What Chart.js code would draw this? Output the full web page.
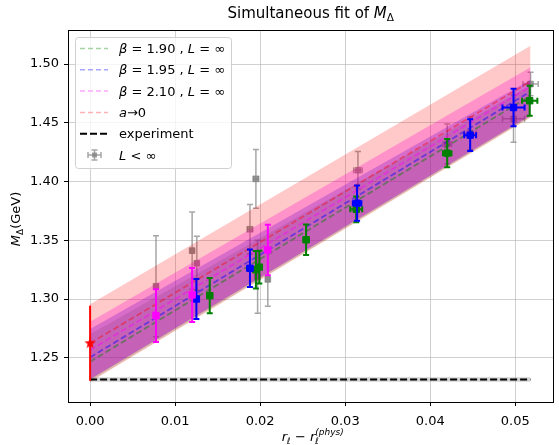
<!DOCTYPE html>
<html>
<head>
<meta charset="utf-8">
<script src="https://cdn.jsdelivr.net/npm/chart.js@4.4.0/dist/chart.umd.min.js"></script>
<style>
  html, body { margin: 0; padding: 0; background: #fff; }
</style>
</head>
<body>
<canvas id="myChart" width="559" height="445"></canvas>
<script>
  // beta = 1.90 ensembles, L = inf
  const b190X = [0.01407, 0.0195, 0.0199, 0.0254, 0.0313, 0.0420, 0.0517];
  const b190Y = [1.3029, 1.3250, 1.3272, 1.3505, 1.3764, 1.4242, 1.4688];
  const b190Err = [0.015, 0.016, 0.014, 0.013, 0.011, 0.012, 0.0127];
  const b190XErr = [0.0003, 0.0003, 0.0003, 0.0003, 0.0007, 0.0005, 0.0009];

  // beta = 1.95
  const b195X = [0.0125, 0.0188, 0.0314, 0.0447, 0.0498];
  const b195Y = [1.3001, 1.3262, 1.3816, 1.4395, 1.4630];
  const b195Err = [0.017, 0.016, 0.015, 0.0135, 0.016];
  const b195XErr = [0.0003, 0.0003, 0.0005, 0.0007, 0.0013];

  // beta = 2.10
  const b210X = [0.00775, 0.0120, 0.0209];
  const b210Y = [1.2859, 1.3035, 1.3418];
  const b210Err = [0.0225, 0.023, 0.0215];
  const b210XErr = [0.0002, 0.0002, 0.0002];

  // finite volume points
  const finX = [0.00775, 0.0120, 0.01255, 0.0188, 0.0195, 0.0197, 0.0209, 0.0315, 0.0420, 0.0447, 0.0498, 0.0518];
  const finY = [1.3109, 1.3412, 1.3305, 1.3594, 1.4023, 1.3190, 1.3168, 1.4096, 1.4320, 1.4410, 1.4534, 1.4830];
  const finErr = [0.043, 0.033, 0.023, 0.021, 0.025, 0.031, 0.023, 0.016, 0.017, 0.014, 0.020, 0.010];
  const finXErr = [0.0002, 0.0002, 0.0002, 0.0003, 0.0003, 0.0003, 0.0002, 0.0005, 0.0005, 0.0007, 0.0013, 0.0009];

  // continuum extrapolated point
  const physX = [0];
  const physY = [1.2624];
  const physErr = [0.032];

  // fit lines and bands, values at both ends of the fit range
  const fitX = [0, 0.0518];
  const b190Mid = [1.2467, 1.4730];
  const b190Lo = [1.2300, 1.4550];
  const b190Hi = [1.2700, 1.4820];
  const b195Mid = [1.2504, 1.4767];
  const b195Lo = [1.2315, 1.4560];
  const b195Hi = [1.2745, 1.4866];
  const b210Mid = [1.2566, 1.4809];
  const b210Lo = [1.2320, 1.4565];
  const b210Hi = [1.2807, 1.4974];
  const contMid = [1.2624, 1.4852];
  const contLo = [1.2295, 1.4545];
  const contHi = [1.2956, 1.5156];

  // experiment
  const expX = [0, 0.0518];
  const expVal = 1.2315;
  const expErr = 0.0019;

  const xTicks = [0, 0.01, 0.02, 0.03, 0.04, 0.05];
  const yTicks = [1.25, 1.30, 1.35, 1.40, 1.45, 1.50];

  const FONT = '"DejaVu Sans"';
  const pts = (xs, ys) => xs.map((x, i) => ({x: x, y: ys[i]}));

  function starImage(r, color) {
    const c = document.createElement('canvas');
    c.width = c.height = Math.ceil(2 * r + 2);
    const g = c.getContext('2d');
    g.translate(c.width / 2, c.height / 2);
    g.beginPath();
    for (let k = 0; k < 10; k++) {
      const rr = k % 2 ? r * 0.42 : r;
      const a = -Math.PI / 2 + k * Math.PI / 5;
      g.lineTo(rr * Math.cos(a), rr * Math.sin(a));
    }
    g.closePath();
    g.fillStyle = color;
    g.fill();
    return c;
  }

  function band(lo, hi, color, order) {
    return [
      {type: 'line', data: pts(fitX, lo), borderColor: 'transparent', borderWidth: 0, pointRadius: 0, fill: false, order: order},
      {type: 'line', data: pts(fitX, hi), borderColor: 'transparent', borderWidth: 0, pointRadius: 0, fill: '-1', backgroundColor: color, order: order}
    ];
  }

  function fitLine(ys, color, order) {
    return {type: 'line', data: pts(fitX, ys), borderColor: color, borderWidth: 1.8,
      borderDash: [6, 3], pointRadius: 0, fill: false, order: order};
  }

  function points(xs, ys, err, xerr, color, fillColor, order, extra) {
    return Object.assign({type: 'scatter', data: pts(xs, ys), yErr: err, xErr: xerr,
      borderColor: color, backgroundColor: fillColor, pointStyle: 'rect', pointRadius: 4.5,
      borderWidth: 1, order: order}, extra || {});
  }

  const datasets = [
    points(finX, finY, finErr, finXErr, 'rgba(128,128,128,0.7)', 'rgba(128,128,128,0.75)', 20, {errWidth: 1.5, pointRadius: 4}),
    ...band(b190Lo, b190Hi, 'rgba(0,128,0,0.17)', 19),
    ...band(b195Lo, b195Hi, 'rgba(0,0,255,0.27)', 18),
    ...band(b210Lo, b210Hi, 'rgba(255,0,255,0.27)', 17),
    ...band(contLo, contHi, 'rgba(255,0,0,0.21)', 16),
    {type: 'line', data: pts(expX, [expVal - expErr, expVal - expErr]), borderColor: 'transparent', borderWidth: 0, pointRadius: 0, fill: false, order: 15},
    {type: 'line', data: pts(expX, [expVal + expErr, expVal + expErr]), borderColor: 'transparent', borderWidth: 0, pointRadius: 0, fill: '-1', backgroundColor: 'rgba(128,128,128,0.35)', order: 15},
    fitLine(b190Mid, 'rgba(0,128,0,0.45)', 14),
    fitLine(b195Mid, 'rgba(0,0,255,0.45)', 13),
    fitLine(b210Mid, 'rgba(255,0,255,0.45)', 12),
    fitLine(contMid, 'rgba(255,0,0,0.4)', 11),
    {type: 'line', data: pts(expX, [expVal, expVal]), borderColor: '#000', borderWidth: 2,
      borderDash: [7, 3], pointRadius: 0, fill: false, order: 10},
    points(b190X, b190Y, b190Err, b190XErr, '#008000', '#008000', 4, {errWidth: 2}),
    points(b195X, b195Y, b195Err, b195XErr, '#0000ff', '#0000ff', 3, {errWidth: 2}),
    points(b210X, b210Y, b210Err, b210XErr, '#ff00ff', '#ff00ff', 2, {errWidth: 2}),
    points(physX, physY, physErr, [0], '#ff0000', '#ff0000', 1, {errWidth: 2, pointStyle: starImage(6, '#ff0000'), cap: 0})
  ];

  // error bars under each point dataset
  const errorBars = {
    id: 'errorBars',
    beforeDatasetDraw(chart, args) {
      const ds = chart.data.datasets[args.index];
      if (!ds.yErr) return;
      const ctx = chart.ctx, sx = chart.scales.x, sy = chart.scales.y;
      const cap = ds.cap === undefined ? 3 : ds.cap;
      ctx.save();
      ctx.strokeStyle = ds.borderColor;
      ctx.lineWidth = ds.errWidth;
      ds.data.forEach((p, i) => {
        const px = sx.getPixelForValue(p.x), py = sy.getPixelForValue(p.y);
        const y0 = sy.getPixelForValue(p.y - ds.yErr[i]), y1 = sy.getPixelForValue(p.y + ds.yErr[i]);
        const x0 = sx.getPixelForValue(p.x - ds.xErr[i]), x1 = sx.getPixelForValue(p.x + ds.xErr[i]);
        ctx.beginPath();
        ctx.moveTo(px, y0); ctx.lineTo(px, y1);
        if (cap) {
          ctx.moveTo(px - cap, y0); ctx.lineTo(px + cap, y0);
          ctx.moveTo(px - cap, y1); ctx.lineTo(px + cap, y1);
        }
        if (x1 - x0 > 1) {
          ctx.moveTo(x0, py); ctx.lineTo(x1, py);
          ctx.moveTo(x0, py - cap); ctx.lineTo(x0, py + cap);
          ctx.moveTo(x1, py - cap); ctx.lineTo(x1, py + cap);
        }
        ctx.stroke();
      });
      ctx.restore();
    }
  };

  function segFont(s) {
    return (s.it ? 'italic ' : '') + (s.sz || 13) + 'px ' + FONT;
  }

  // draws text made of pieces (italic, sub/superscripts)
  function drawRich(ctx, segs, x, y, align) {
    let pos = 0, prevStart = 0, prevEnd = 0;
    const items = segs.map(s => {
      ctx.font = segFont(s);
      const w = ctx.measureText(s.t).width;
      const start = s.stack ? prevStart : pos;
      const end = start + w;
      pos = s.stack ? Math.max(prevEnd, end) : end;
      prevStart = start; prevEnd = end;
      return {s: s, start: start};
    });
    const x0 = align === 'center' ? x - pos / 2 : x;
    ctx.textAlign = 'left';
    ctx.textBaseline = 'alphabetic';
    items.forEach(it => {
      ctx.font = segFont(it.s);
      ctx.fillText(it.s.t, x0 + it.start, y + (it.s.dy || 0));
    });
  }

  const decorations = {
    id: 'decorations',
    afterDatasetsDraw(chart) {
      const {ctx, chartArea: a} = chart;
      ctx.save();
      ctx.strokeStyle = '#000';
      ctx.lineWidth = 1;
      ctx.strokeRect(Math.round(a.left) + 0.5, Math.round(a.top) + 0.5,
        Math.round(a.right - a.left) - 1, Math.round(a.bottom - a.top));
      ctx.restore();
    },
    afterDraw(chart) {
      const {ctx, chartArea: a} = chart;
      ctx.save();
      ctx.fillStyle = '#000';
      const cx = (a.left + a.right) / 2;
      // title
      drawRich(ctx, [
        {t: 'Simultaneous fit of ', sz: 15},
        {t: 'M', it: true, sz: 15},
        {t: 'Δ', sz: 10.5, dy: 3}
      ], cx, 18, 'center');
      // x label
      drawRich(ctx, [
        {t: 'r', it: true},
        {t: 'ℓ', it: true, sz: 9, dy: 3},
        {t: ' − '},
        {t: 'r', it: true},
        {t: 'ℓ', it: true, sz: 9, dy: 3},
        {t: '(phys)', it: true, sz: 9, dy: -6, stack: true}
      ], cx + 2, 441, 'center');
      // y label
      ctx.save();
      ctx.translate(20, (a.top + a.bottom) / 2 + 3);
      ctx.rotate(-Math.PI / 2);
      drawRich(ctx, [
        {t: 'M', it: true},
        {t: 'Δ', sz: 9, dy: 3},
        {t: '(GeV)'}
      ], 0, 0, 'center');
      ctx.restore();

      // legend
      const lx = 75, ly = 37, lw = 156, lh = 131;
      ctx.beginPath();
      ctx.roundRect(lx + 0.5, ly + 0.5, lw, lh, 3);
      ctx.fillStyle = 'rgba(255,255,255,0.8)';
      ctx.fill();
      ctx.strokeStyle = '#d0d0d0';
      ctx.lineWidth = 1;
      ctx.stroke();

      const rows = [
        {color: 'rgba(0,128,0,0.35)', segs: [{t: 'β', it: true}, {t: ' = 1.90 , '}, {t: 'L', it: true}, {t: ' = ∞'}]},
        {color: 'rgba(0,0,255,0.35)', segs: [{t: 'β', it: true}, {t: ' = 1.95 , '}, {t: 'L', it: true}, {t: ' = ∞'}]},
        {color: 'rgba(255,0,255,0.35)', segs: [{t: 'β', it: true}, {t: ' = 2.10 , '}, {t: 'L', it: true}, {t: ' = ∞'}]},
        {color: 'rgba(255,0,0,0.3)', segs: [{t: 'a', it: true}, {t: '→0'}]},
        {color: '#000', width: 2, dash: [7, 3], segs: [{t: 'experiment'}]},
        {err: true, segs: [{t: 'L', it: true}, {t: ' < ∞'}]}
      ];
      rows.forEach((r, i) => {
        const y = 48.5 + i * 21.3;
        if (r.err) {
          ctx.strokeStyle = 'rgba(128,128,128,0.7)';
          ctx.lineWidth = 1.5;
          ctx.setLineDash([]);
          ctx.beginPath();
          ctx.moveTo(88, y); ctx.lineTo(101, y);
          ctx.moveTo(94.5, y - 5); ctx.lineTo(94.5, y + 5);
          ctx.moveTo(91.5, y - 5); ctx.lineTo(97.5, y - 5);
          ctx.moveTo(91.5, y + 5); ctx.lineTo(97.5, y + 5);
          ctx.moveTo(88, y - 3); ctx.lineTo(88, y + 3);
          ctx.moveTo(101, y - 3); ctx.lineTo(101, y + 3);
          ctx.stroke();
          ctx.fillStyle = 'rgba(128,128,128,0.75)';
          ctx.fillRect(92, y - 2.5, 5, 5);
        } else {
          ctx.strokeStyle = r.color;
          ctx.lineWidth = r.width || 1.5;
          ctx.setLineDash(r.dash || [5, 3]);
          ctx.beginPath();
          ctx.moveTo(80, y); ctx.lineTo(108, y);
          ctx.stroke();
          ctx.setLineDash([]);
        }
        ctx.fillStyle = '#000';
        drawRich(ctx, r.segs, 119, y + 4.5, 'left');
      });
      ctx.restore();
    }
  };

  const config = {
    type: 'scatter',
    data: {datasets: datasets},
    options: {
      responsive: false,
      animation: false,
      events: [],
      layout: {padding: {top: 30, right: 3, left: 0, bottom: 0}},
      plugins: {legend: {display: false}, tooltip: {enabled: false}, title: {display: false}},
      scales: {
        x: {
          type: 'linear',
          min: -0.0026,
          max: 0.0545,
          afterBuildTicks: s => { s.ticks = xTicks.map(v => ({value: v})); },
          afterFit: s => { s.height = 43; },
          ticks: {callback: v => v.toFixed(2), color: '#000', font: {family: FONT, size: 13}, padding: 8, maxRotation: 0, autoSkip: false},
          grid: {color: 'rgba(176,176,176,0.6)', lineWidth: 1, tickColor: '#000', tickLength: 4},
          border: {color: '#000', width: 1}
        },
        y: {
          type: 'linear',
          min: 1.2124,
          max: 1.529,
          afterBuildTicks: s => { s.ticks = yTicks.map(v => ({value: v})); },
          afterFit: s => { s.width = 68; },
          ticks: {callback: v => v.toFixed(2), color: '#000', font: {family: FONT, size: 13}, padding: 5, autoSkip: false},
          grid: {color: 'rgba(176,176,176,0.6)', lineWidth: 1, tickColor: '#000', tickLength: 4},
          border: {color: '#000', width: 1}
        }
      }
    },
    plugins: [errorBars, decorations]
  };

  const myChart = new Chart(document.getElementById('myChart'), config);
</script>
</body>
</html>
